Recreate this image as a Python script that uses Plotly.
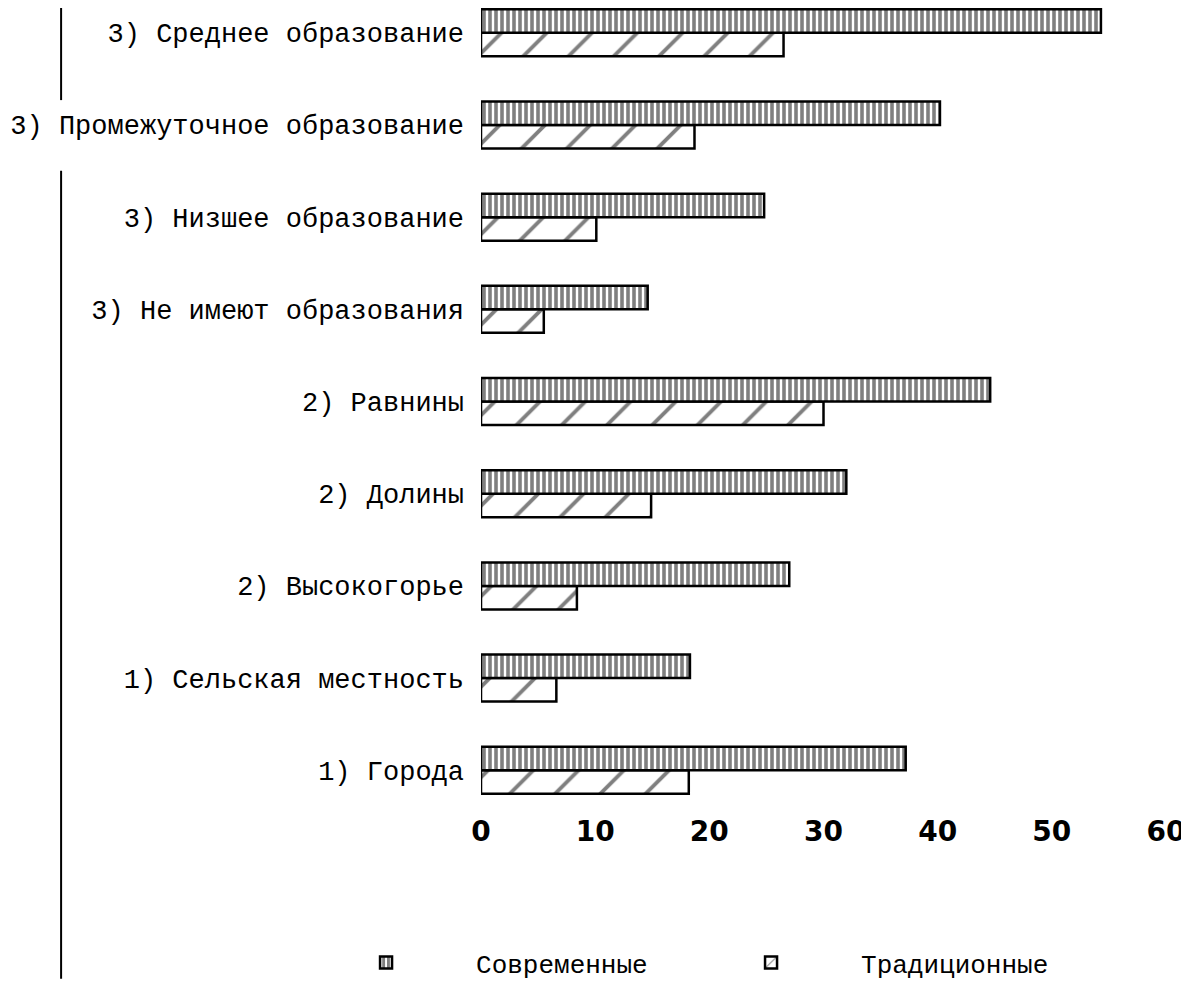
import plotly.graph_objects as go

categories = [
    "1) Города",
    "1) Сельская местность",
    "2) Высокогорье",
    "2) Долины",
    "2) Равнины",
    "3) Не имеют образования",
    "3) Низшее образование",
    "3) Промежуточное образование",
    "3) Среднее образование",
]
modern = [37.2, 18.3, 27.0, 32.0, 44.6, 14.6, 24.8, 40.2, 54.3]
traditional = [18.2, 6.6, 8.4, 14.9, 30.0, 5.5, 10.1, 18.7, 26.5]
x_ticks = [0, 10, 20, 30, 40, 50, 60]

fig = go.Figure()
fig.add_trace(go.Bar(
    y=categories, x=traditional, orientation="h", name="Традиционные",
    legendrank=2,
    marker=dict(color="white", line=dict(color="black", width=2.5),
                pattern=dict(shape="/", size=32, solidity=0.12,
                             fgcolor="black", bgcolor="white", fillmode="overlay")),
))
fig.add_trace(go.Bar(
    y=categories, x=modern, orientation="h", name="Современные",
    legendrank=1,
    marker=dict(color="white", line=dict(color="black", width=2.5),
                pattern=dict(shape="|", size=6, solidity=0.6,
                             fgcolor="black", bgcolor="white", fillmode="overlay")),
))

fig.update_layout(
    width=1181, height=978,
    paper_bgcolor="white", plot_bgcolor="white",
    margin=dict(l=473, r=23, t=0, b=178),
    barmode="group", bargap=0.49, bargroupgap=0,
    showlegend=True,
    legend=dict(orientation="h", x=-0.27, xanchor="left", y=-0.2025, yanchor="middle",
                entrywidth=200, entrywidthmode="pixels", itemwidth=170,
                font=dict(family="Liberation Mono", size=26, color="black")),
    shapes=[
        dict(type="line", xref="paper", yref="paper", x0=-0.613, x1=-0.613,
             y0=1.0, y1=0.884, line=dict(color="black", width=2)),
        dict(type="line", xref="paper", yref="paper", x0=-0.613, x1=-0.613,
             y0=0.795, y1=-0.2225, line=dict(color="black", width=2)),
    ],
)
fig.update_xaxes(range=[0, 60], tickvals=x_ticks, showgrid=False, zeroline=False,
                 showline=False, ticks="", ticklabelstandoff=10,
                 tickfont=dict(family="DejaVu Sans", size=28, color="black", weight="bold"))
fig.update_yaxes(type="category", categoryorder="array", categoryarray=categories,
                 range=[-0.344, 8.269], showgrid=False, zeroline=False, showline=False,
                 ticks="", ticklabelstandoff=16,
                 tickfont=dict(family="Liberation Mono", size=27, color="black"))

fig.write_html("out.html")
